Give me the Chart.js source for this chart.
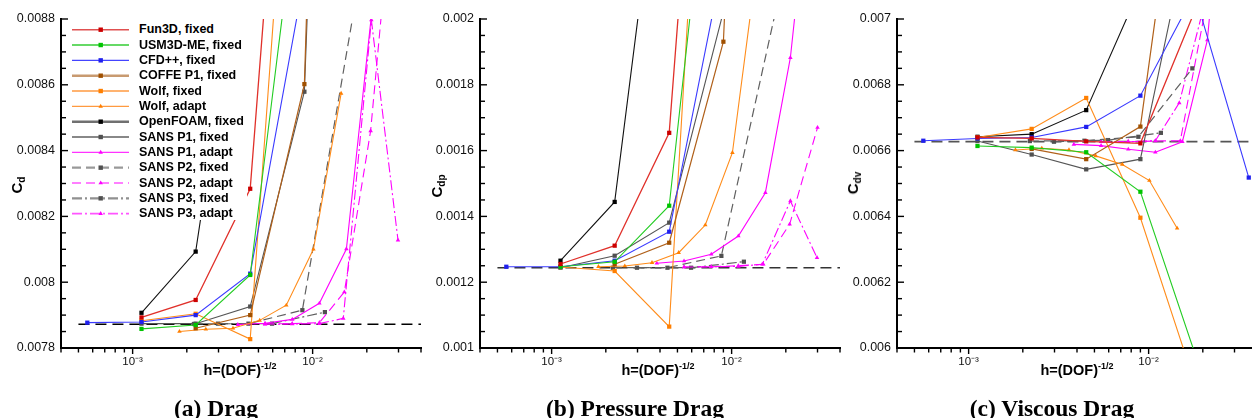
<!DOCTYPE html>
<html>
<head>
<meta charset="utf-8">
<script src="https://cdn.jsdelivr.net/npm/chart.js@4.4.0/dist/chart.umd.min.js"></script>
<style>
html,body{margin:0;padding:0;background:#fff;}
#wrap{position:relative;width:1252px;height:418px;overflow:hidden;background:#fff;}
#wrap canvas{position:absolute;top:0;}
.ytitle{position:absolute;font:bold 15px "Liberation Sans",Arial,sans-serif;white-space:nowrap;transform:translate(-50%,-50%) rotate(-90deg);color:#000;line-height:18px;}
.ytitle sub{font-size:10px;position:relative;top:3px;vertical-align:baseline;}
.xtitle{position:absolute;font:bold 14.5px "Liberation Sans",Arial,sans-serif;white-space:nowrap;transform:translate(-50%,-50%);line-height:18px;color:#000;}
.xtitle sup{font-size:9px;position:relative;top:-6px;vertical-align:baseline;}
.cap{position:absolute;font:bold 23.5px "Liberation Serif","Times New Roman",serif;white-space:nowrap;transform:translate(-50%,-50%);line-height:28px;color:#000;}
#legend{position:absolute;left:69px;top:17px;width:178px;height:203px;background:#fff;z-index:3;}
#legend svg{position:absolute;left:0;top:0;}
.ltxt{position:absolute;left:70px;font:bold 12.5px "Liberation Sans",Arial,sans-serif;line-height:15px;height:15px;white-space:nowrap;color:#000;}
</style>
</head>
<body>
<div id="wrap">
  <canvas id="cA" width="425" height="418" style="left:0px"></canvas>
  <canvas id="cB" width="425" height="418" style="left:420px"></canvas>
  <canvas id="cC" width="422" height="418" style="left:840px"></canvas>
  <div id="legend"></div>
  <div class="ytitle" style="left:18px;top:185px">C<sub>d</sub></div>
  <div class="ytitle" style="left:438px;top:186px">C<sub>dp</sub></div>
  <div class="ytitle" style="left:854px;top:183px">C<sub>dv</sub></div>
  <div class="xtitle" style="left:240px;top:371px">h=(DOF)<sup>-1/2</sup></div>
  <div class="xtitle" style="left:658px;top:371px">h=(DOF)<sup>-1/2</sup></div>
  <div class="xtitle" style="left:1077px;top:371px">h=(DOF)<sup>-1/2</sup></div>
  <div class="cap" style="left:216px;top:408px">(a) Drag</div>
  <div class="cap" style="left:635px;top:408px">(b) Pressure Drag</div>
  <div class="cap" style="left:1052px;top:408px">(c) Viscous Drag</div>
</div>
<script>
// ---------------- data ----------------
const NAMES = ["Fun3D, fixed","USM3D-ME, fixed","CFD++, fixed","COFFE P1, fixed","Wolf, fixed","Wolf, adapt",
  "OpenFOAM, fixed","SANS P1, fixed","SANS P1, adapt","SANS P2, fixed","SANS P2, adapt","SANS P3, fixed","SANS P3, adapt"];

const H_FUN3D = [1.12e-3, 2.24e-3, 4.5e-3, 9.0e-3, 1.8e-2];
const CD_FUN3D  = [0.007893, 0.007946, 0.008284, 0.0104, null];
const CDP_FUN3D = [0.0012553, 0.001311, 0.001654, 0.0038, null];
const CDV_FUN3D = [0.00664, 0.006637, 0.006628, 0.006622, 0.007023];

const H_USM3D = [1.12e-3, 2.24e-3, 4.5e-3, 9.0e-3, 1.8e-2];
const CD_USM3D  = [0.007858, 0.00787, 0.008022, 0.00935, null];
const CDP_USM3D = [0.001247, 0.001262, 0.0014325, 0.00293, null];
const CDV_USM3D = [0.006614, 0.006609, 0.006595, 0.006475, 0.005986];

const H_CFD = [5.6e-4, 1.12e-3, 2.24e-3, 4.5e-3, 9.0e-3, 1.8e-2, 3.6e-2];
const CD_CFD  = [0.007877, 0.007879, 0.0079, 0.008026, 0.00893, null, null];
const CDP_CFD = [0.001247, 0.001247, 0.0012654, 0.0013535, 0.00218, null, null];
const CDV_CFD = [0.00663, 0.006637, 0.00664, 0.006672, 0.006767, 0.007078, 0.006518];

const H_COFFE = [2.24e-3, 4.5e-3, 9.0e-3, 1.8e-2];
const CD_COFFE  = [0.00786, 0.0079, 0.008602, 0.0139];
const CDP_COFFE = [0.0012544, 0.00132, 0.001931, 0.0056];
const CDV_COFFE = [0.006605, 0.006574, 0.006673, 0.00787];

const H_WOLF = [1.12e-3, 2.24e-3, 4.5e-3, 9.0e-3, 1.8e-2];
const CD_WOLF  = [0.007883, 0.007904, 0.007827, 0.0101, null];
const CDP_WOLF = [0.001246, 0.001234, 0.001065, 0.00382, null];
const CDV_WOLF = [0.00664, 0.006666, 0.00676, 0.006396, 0.005895];

const H_WOLFA = [1.82e-3, 2.55e-3, 3.61e-3, 5.08e-3, 7.14e-3, 1.01e-2, 1.44e-2];
const CD_WOLFA  = [0.00785, 0.007857, 0.00786, 0.007884, 0.00793, 0.0081, 0.008574];
const CDP_WOLFA = [0.0012471, 0.0012493, 0.0012593, 0.0012897, 0.0013738, 0.0015936, 0.00224];
const CDV_WOLFA = [0.006602, 0.006607, 0.006602, 0.006584, 0.006558, 0.006509, 0.006364];

const H_OPENFOAM = [1.12e-3, 2.24e-3, 4.5e-3, 9.0e-3];
const CD_OPENFOAM  = [0.007907, 0.008093, 0.00919, null];
const CDP_OPENFOAM = [0.0012654, 0.001444, 0.002754, null];
const CDV_OPENFOAM = [0.006642, 0.00665, 0.006723, 0.007096];

const H_SANS1 = [1.12e-3, 2.24e-3, 4.5e-3, 9.0e-3, 1.8e-2];
const CD_SANS1  = [0.007874, 0.007874, 0.007926, 0.008579, 0.013];
const CDP_SANS1 = [0.001244, 0.0012805, 0.001381, 0.0020225, 0.005];
const CDV_SANS1 = [0.006629, 0.006588, 0.006543, 0.006574, 0.007354];

const H_SANS1A = [3.84e-3, 5.44e-3, 7.71e-3, 1.09e-2, 1.54e-2, 2.12e-2, 2.97e-2];
const CD_SANS1A  = [0.007871, 0.007875, 0.007887, 0.007936, 0.008101, 0.00881, null];
const CDP_SANS1A = [0.0012574, 0.0012644, 0.0012848, 0.0013404, 0.001472, 0.0018824, 0.00263];
const CDV_SANS1A = [0.006619, 0.006615, 0.006604, 0.006595, 0.006627, 0.006936, 0.0078];

const H_SANS2 = [2.19e-3, 4.4e-3, 8.77e-3, 1.75e-2];
const CD_SANS2  = [0.007873, 0.007874, 0.007915, 0.00887];
const CDP_SANS2 = [0.001244, 0.001244, 0.00128, 0.00202];
const CDV_SANS2 = [0.006629, 0.00663, 0.006642, 0.00685];

const H_SANS2A = [5.44e-3, 7.7e-3, 1.09e-2, 1.5e-2, 2.1e-2, 3.0e-2];
const CD_SANS2A  = [0.007873, 0.007874, 0.007877, 0.00797, 0.00846, 0.00938];
const CDP_SANS2A = [0.001246, 0.001247, 0.00125, 0.0012544, 0.001376, 0.00167];
const CDV_SANS2A = [0.006627, 0.006627, 0.006629, 0.00663, 0.00705, null];

const H_SANS3 = [2.98e-3, 5.95e-3, 1.17e-2];
const CD_SANS3  = [0.007874, 0.007874, 0.007909];
const CDP_SANS3 = [0.001244, 0.001244, 0.0012623];
const CDV_SANS3 = [0.006627, 0.006632, 0.006654];

const H_SANS3A = [5.44e-3, 7.7e-3, 1.09e-2, 1.48e-2, 2.12e-2, 2.98e-2];
const CD_SANS3A  = [0.007872, 0.007873, 0.007874, 0.00789, 0.008797, 0.008128];
const CDP_SANS3A = [0.001246, 0.001247, 0.001248, 0.0012544, 0.001447, 0.0012745];
const CDV_SANS3A = [0.006627, 0.006627, 0.00663, 0.006745, 0.00708, null];

// reference (converged) values
const REF_H = [5e-4, 4e-2];
const REF_CD = 0.007872, REF_CDP = 0.001244, REF_CDV = 0.006627;

// axes
const X_RANGE = [4e-4, 4e-2];
const XTICKS = [1e-3, 1e-2];
const XLABELS = ["10\u207B\u00B3", "10\u207B\u00B2"];
const YTICKS_A = [0.0078, 0.008, 0.0082, 0.0084, 0.0086, 0.0088];
const YLABELS_A = ["0.0078", "0.008", "0.0082", "0.0084", "0.0086", "0.0088"];
const YTICKS_B = [0.001, 0.0012, 0.0014, 0.0016, 0.0018, 0.002];
const YLABELS_B = ["0.001", "0.0012", "0.0014", "0.0016", "0.0018", "0.002"];
const YTICKS_C = [0.006, 0.0062, 0.0064, 0.0066, 0.0068, 0.007];
const YLABELS_C = ["0.006", "0.0062", "0.0064", "0.0066", "0.0068", "0.007"];

// ---------------- styles ----------------
const STYLES = [
  {line:'#e0302a', mark:'#cc0000', shape:'rect', dash:[], lw:1.3, legCol:'#e05050', legW:1.6},
  {line:'#22cc22', mark:'#00c400', shape:'rect', dash:[], lw:1.1, legCol:'#33cc33', legW:1.4},
  {line:'#3a3aff', mark:'#2020ee', shape:'rect', dash:[], lw:1.1, legCol:'#4444ff', legW:1.4},
  {line:'#b0601a', mark:'#a05000', shape:'rect', dash:[], lw:1.2, legCol:'#c89a70', legW:2.4},
  {line:'#ff8c1a', mark:'#ff7f00', shape:'rect', dash:[], lw:1.1, legCol:'#ff9a40', legW:1.4},
  {line:'#ff8c1a', mark:'#ff7f00', shape:'triangle', dash:[], lw:1.1, legCol:'#ff9a40', legW:1.4},
  {line:'#111111', mark:'#000000', shape:'rect', dash:[], lw:1.1, legCol:'#707070', legW:2.4},
  {line:'#555555', mark:'#505050', shape:'rect', dash:[], lw:1.1, legCol:'#606060', legW:1.4},
  {line:'#ff00ff', mark:'#ff00ff', shape:'triangle', dash:[], lw:1.1, legCol:'#ff33ff', legW:1.4},
  {line:'#606060', mark:'#505050', shape:'rect', dash:[9,5], lw:1.2, legCol:'#999999', legW:2.2},
  {line:'#ff00ff', mark:'#ff00ff', shape:'triangle', dash:[9,5], lw:1.1, legCol:'#ff55ff', legW:1.6},
  {line:'#606060', mark:'#505050', shape:'rect', dash:[10,3,2,3], lw:1.2, legCol:'#909090', legW:2.2},
  {line:'#ff00ff', mark:'#ff00ff', shape:'triangle', dash:[10,3,2,3], lw:1.1, legCol:'#ff55ff', legW:1.6}
];

const SERIES_H = [H_FUN3D, H_USM3D, H_CFD, H_COFFE, H_WOLF, H_WOLFA, H_OPENFOAM, H_SANS1, H_SANS1A, H_SANS2, H_SANS2A, H_SANS3, H_SANS3A];
const PANEL_VALUES = [
  [CD_FUN3D, CD_USM3D, CD_CFD, CD_COFFE, CD_WOLF, CD_WOLFA, CD_OPENFOAM, CD_SANS1, CD_SANS1A, CD_SANS2, CD_SANS2A, CD_SANS3, CD_SANS3A],
  [CDP_FUN3D, CDP_USM3D, CDP_CFD, CDP_COFFE, CDP_WOLF, CDP_WOLFA, CDP_OPENFOAM, CDP_SANS1, CDP_SANS1A, CDP_SANS2, CDP_SANS2A, CDP_SANS3, CDP_SANS3A],
  [CDV_FUN3D, CDV_USM3D, CDV_CFD, CDV_COFFE, CDV_WOLF, CDV_WOLFA, CDV_OPENFOAM, CDV_SANS1, CDV_SANS1A, CDV_SANS2, CDV_SANS2A, CDV_SANS3, CDV_SANS3A]
];

Chart.defaults.font.family = '"Liberation Sans", Arial, sans-serif';
Chart.defaults.color = '#111';

const tickPlugin = {
  id: 'tickMarks',
  afterDraw(chart) {
    const {ctx, chartArea: a, scales: {x, y}} = chart;
    ctx.save();
    ctx.strokeStyle = '#000';
    ctx.lineWidth = 1.4;
    const n = 20;
    for (let i = 0; i <= n; i++) {
      const v = y.min + (y.max - y.min) * i / n;
      const py = y.getPixelForValue(v);
      const len = (i % 4 === 0) ? 7 : 5;
      ctx.beginPath(); ctx.moveTo(a.left, py); ctx.lineTo(a.left + len, py); ctx.stroke();
    }
    for (let d = -4; d <= -2; d++) {
      for (let k = 1; k <= 9; k++) {
        const v = k * Math.pow(10, d);
        if (v < x.min * 0.999 || v > x.max * 1.001) continue;
        const px = x.getPixelForValue(v);
        const len = (k === 1) ? 6 : 4.5;
        ctx.beginPath(); ctx.moveTo(px, a.bottom); ctx.lineTo(px, a.bottom + len); ctx.stroke();
      }
    }
    ctx.restore();
  }
};

function buildDatasets(panel, refVal, refColor, refWidth) {
  const ds = [];
  SERIES_H.forEach((H, s) => {
    const st = STYLES[s];
    const V = PANEL_VALUES[panel][s];
    ds.push({
      label: NAMES[s],
      data: H.map((h, i) => ({x: h, y: V[i]})),
      borderColor: st.line,
      backgroundColor: st.mark,
      borderWidth: st.lw,
      borderDash: st.dash,
      pointStyle: st.shape,
      pointRadius: st.shape === 'rect' ? 3 : 2.6,
      pointBackgroundColor: st.mark,
      pointBorderColor: st.mark,
      pointBorderWidth: 0,
      tension: 0,
      spanGaps: false
    });
  });
  ds.push({
    label: 'reference',
    data: REF_H.map(h => ({x: h, y: refVal})),
    borderColor: refColor,
    borderWidth: refWidth,
    borderDash: [11, 6],
    pointRadius: 0,
    tension: 0
  });
  return ds;
}

function makeChart(id, panel, yTicks, yLabels, refVal, refColor, refWidth, yWidth, padRight) {
  const ctx = document.getElementById(id).getContext('2d');
  return new Chart(ctx, {
    type: 'line',
    data: {datasets: buildDatasets(panel, refVal, refColor, refWidth)},
    options: {
      responsive: false,
      animation: false,
      devicePixelRatio: 1,
      layout: {padding: {top: 19, right: padRight, left: 0, bottom: 0}},
      plugins: {legend: {display: false}, title: {display: false}, tooltip: {enabled: false}},
      events: [],
      scales: {
        x: {
          type: 'logarithmic',
          min: X_RANGE[0], max: X_RANGE[1],
          grid: {display: false, drawTicks: false},
          border: {display: true, color: '#000', width: 2},
          afterBuildTicks: (sc) => { sc.ticks = XTICKS.map(v => ({value: v})); },
          afterFit: (sc) => { sc.height = 70; },
          ticks: {
            autoSkip: false, maxRotation: 0, padding: 7,
            font: {size: 11.5}, color: '#111',
            callback: (v, i) => XLABELS[i]
          }
        },
        y: {
          type: 'linear',
          min: yTicks[0], max: yTicks[yTicks.length - 1],
          grid: {display: false, drawTicks: false},
          border: {display: true, color: '#000', width: 2},
          afterBuildTicks: (sc) => { sc.ticks = yTicks.map(v => ({value: v})); },
          afterFit: (sc) => { sc.width = yWidth; },
          ticks: {
            autoSkip: false, padding: 6,
            font: {size: 12.5}, color: '#111',
            callback: (v, i) => yLabels[i]
          }
        }
      }
    },
    plugins: [tickPlugin]
  });
}

makeChart('cA', 0, YTICKS_A, YLABELS_A, REF_CD, '#000000', 1.4, 61, 4);
makeChart('cB', 1, YTICKS_B, YLABELS_B, REF_CDP, '#333333', 1.5, 60, 5);
makeChart('cC', 2, YTICKS_C, YLABELS_C, REF_CDV, '#555555', 1.8, 57, 5);

// ---------------- legend (panel a) ----------------
(function () {
  const leg = document.getElementById('legend');
  const NS = 'http://www.w3.org/2000/svg';
  const svg = document.createElementNS(NS, 'svg');
  svg.setAttribute('width', '70'); svg.setAttribute('height', '203');
  leg.appendChild(svg);
  NAMES.forEach((name, i) => {
    const st = STYLES[i];
    const cy = 12.7 + 15.33 * i;
    const ln = document.createElementNS(NS, 'line');
    ln.setAttribute('x1', 3); ln.setAttribute('x2', 60);
    ln.setAttribute('y1', cy); ln.setAttribute('y2', cy);
    ln.setAttribute('stroke', st.legCol);
    ln.setAttribute('stroke-width', st.legW);
    if (st.dash.length) ln.setAttribute('stroke-dasharray', st.dash.join(' '));
    svg.appendChild(ln);
    if (st.shape === 'rect') {
      const r = document.createElementNS(NS, 'rect');
      r.setAttribute('x', 31.7 - 2.2); r.setAttribute('y', cy - 2.2);
      r.setAttribute('width', 4.4); r.setAttribute('height', 4.4);
      r.setAttribute('fill', st.mark);
      svg.appendChild(r);
    } else {
      const p = document.createElementNS(NS, 'polygon');
      const cx = 31.7, s = 2.6;
      p.setAttribute('points', `${cx},${cy - s} ${cx - s * 0.87},${cy + s * 0.5} ${cx + s * 0.87},${cy + s * 0.5}`);
      p.setAttribute('fill', st.mark);
      svg.appendChild(p);
    }
    const t = document.createElement('div');
    t.className = 'ltxt';
    t.style.top = (cy - 7.5) + 'px';
    t.textContent = name;
    leg.appendChild(t);
  });
})();
</script>
</body>
</html>
